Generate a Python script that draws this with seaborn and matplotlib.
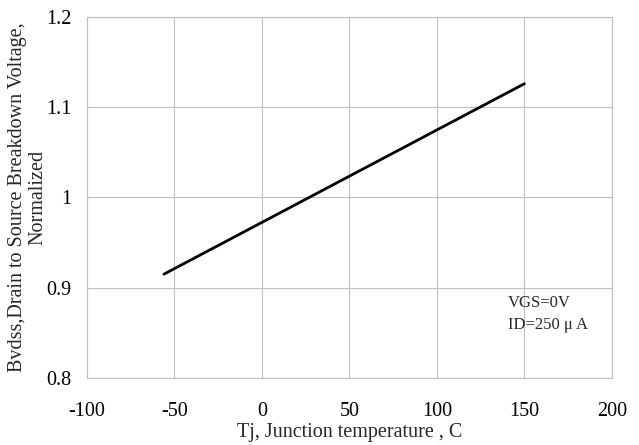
import matplotlib
matplotlib.use("Agg")
import matplotlib.pyplot as plt
import seaborn as sns
import pandas as pd

temps = [-56, 150]
bvdss = [0.915, 1.126]
x_ticks = [-100, -50, 0, 50, 100, 150, 200]
y_ticks = [0.8, 0.9, 1.0, 1.1, 1.2]
y_tick_labels = ["0.8", "0.9", "1", "1.1", "1.2"]

sns.set_theme(style="white")
plt.rcParams['font.family'] = ['Liberation Serif', 'DejaVu Serif']

df = pd.DataFrame({"Tj": temps, "BV": bvdss})

fig = plt.figure(figsize=(6.39, 4.45), dpi=100)
ax = fig.add_axes([0.136, 0.1506, 0.8216, 0.8114])
sns.lineplot(data=df, x="Tj", y="BV", ax=ax, color="black", linewidth=2)

ax.set_xlim(-100, 200)
ax.set_ylim(0.8, 1.2)
ax.set_xticks(x_ticks)
ax.set_xticklabels([str(v) for v in x_ticks])
ax.set_yticks(y_ticks)
ax.set_yticklabels(y_tick_labels)
ax.grid(True, color="#bfbfbf", linewidth=0.8)
for s in ax.spines.values():
    s.set_color("#bfbfbf")
    s.set_linewidth(0.8)
ax.tick_params(axis="both", labelsize=14.5, length=0, colors="black")
ax.tick_params(axis="x", pad=17)
ax.tick_params(axis="y", pad=11)
ax.set_xlabel("Tj, Junction temperature , C", fontsize=14.5, labelpad=2)
ax.set_ylabel("Bvdss,Drain to Source Breakdown Voltage,\nNormalized", fontsize=14.5, labelpad=-1,
              linespacing=1.15)

ax.text(140.5, 0.871, "VGS=0V\nID=250 \u03bc A", fontsize=12, va="center", ha="left",
        linespacing=1.55)

fig.savefig("out.png", dpi=100)
